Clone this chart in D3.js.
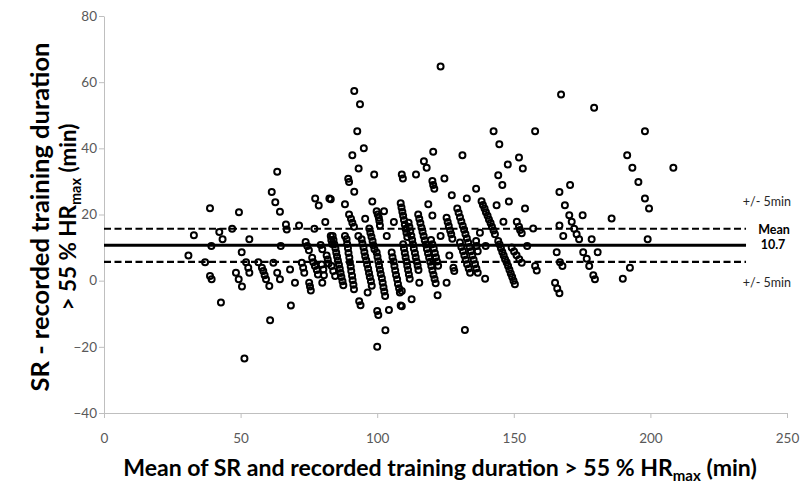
<!DOCTYPE html>
<html>
<head>
<meta charset="utf-8">
<script src="https://cdn.jsdelivr.net/npm/d3@7"></script>
<style>
  body { margin: 0; background: #fff; }
  svg { display: block; }
</style>
</head>
<body>
<div id="chart"></div>
<script>
// axis ticks
const xTicks = [0, 50, 100, 150, 200, 250];
const yTicks = [-40, -20, 0, 20, 40, 60, 80];

// bias line and limits (+/- 5 min)
const meanDiff = 10.7;
const limitOffset = 5;
const lineEnd = 235;

// [mean of SR and recorded, SR - recorded], grouped by x range
const pointsLeft = [
  [30.9,7.6],[32.9,13.7],[37.0,5.6],[38.8,21.9],[39.3,10.5],[38.8,1.4],[39.4,0.4],[42.2,14.7],
  [43.4,12.5],[42.8,-6.6],[46.9,15.7],[48.3,2.4],[49.3,0.4],[49.4,20.7],[50.4,8.6],[50.5,-1.8],
  [51.4,-23.5],[52.0,5.6],[52.8,3.9],[53.2,2.4],[53.2,12.5],[56.5,5.6]
];

const pointsLowMid = [
  [63.4,32.9],[61.4,26.8],[62.7,23.7],[64.4,20.8],[77.3,24.8],[78.6,22.7],[82.5,24.8],[81.0,17.7],
  [66.6,17.0],[66.9,15.5],[71.4,16.7],[77.0,15.7],[64.7,10.5],[73.8,11.7],[74.4,10.5],[75.0,9.2],
  [79.3,10.8],[79.9,9.5],[83.0,13.5],[83.2,12.3],[83.5,11.1],[57.8,3.9],[58.3,2.9],[58.8,1.6],
  [59.3,0.4],[60.5,-1.6],[62.0,5.4],[63.4,2.4],[64.4,0.4],[68.1,3.4],[69.9,-0.6],[72.4,5.4],
  [72.9,3.9],[73.3,2.4],[75.1,-0.6],[75.4,-1.8],[75.7,-3.0],[76.2,6.9],[76.6,5.6],[77.2,4.4],
  [77.9,3.2],[78.3,1.9],[79.7,4.9],[80.3,3.4],[80.5,1.6],[79.9,-0.6],[81.5,7.6],[81.9,6.4],
  [82.2,5.2],[83.3,4.4],[83.9,2.9],[84.6,1.4],[68.4,-7.5],[60.8,-12.0]
];

const pointsCentre = [
  [90.9,37.9],[95.1,40.0],[93.2,33.9],[98.9,32.1],[89.4,30.8],[89.7,29.8],[91.6,26.9],[109.0,32.1],
  [109.4,30.9],[83.0,24.6],[88.2,23.1],[98.2,23.9],[102.5,21.0],[95.6,18.7],[106.1,17.7],[93.1,13.5],
  [103.5,13.5],[88.2,13.5],[91.6,57.3],[93.7,53.3],[92.7,45.2],
  [99.8,21.0],[100.2,20.0],[100.6,19.0],[100.8,18.0],[101.0,16.7],
  [89.7,20.0],[90.4,18.7],[90.9,17.5],[91.5,16.3],
  [97.1,15.8],[97.5,14.5],[97.9,13.3],[98.3,12.0],[98.6,10.7],[99.0,9.5],
  [83.7,13.5],[84.0,12.3],[84.3,11.0],[84.7,9.8],[85.0,8.5],[85.3,7.3],[85.6,6.1],[86.0,4.8],
  [86.3,3.6],[86.6,2.3],[86.9,1.1],[87.3,-0.2],[87.6,-1.4],
  [88.8,12.5],[89.0,11.1],[89.3,9.8],[89.5,8.4],[89.8,7.0],[90.0,5.6],[90.3,4.3],[90.5,2.9],
  [90.8,1.5],[91.0,0.1],[91.3,-1.2],[91.5,-2.6],
  [94.3,12.5],[94.6,11.2],[95.0,10.0],[95.3,8.7],[95.6,7.4],[96.0,6.2],[96.3,4.9],[96.7,3.6],
  [97.0,2.3],[97.3,1.1],[97.7,-0.2],[98.0,-1.5],
  [99.8,8.5],[100.1,7.2],[100.4,5.9],[100.7,4.6],[101.0,3.3],[101.3,2.0],[101.7,0.7],[102.0,-0.6],
  [102.3,-2.0],[102.6,-3.3],[102.9,-4.6],
  [105.3,8.5],[105.6,7.1],[106.0,5.8],[106.3,4.4],[106.6,3.1],[106.9,1.7],[107.3,0.4],[107.6,-1.0],
  [108.0,-2.3],[108.3,-3.6],
  [93.4,-6.2],[93.9,-7.4],[100.0,-9.2],[100.4,-10.4],[104.3,-8.9],[108.6,-7.5],[96.5,-3.6],
  [100.0,-20.0],[103.0,-15.0]
];

const pointsHighMid = [
  [120.5,39.0],[131.2,37.9],[117.1,36.1],[118.1,34.1],[114.2,32.1],[120.2,30.1],[120.5,28.9],[120.9,27.8],
  [124.6,30.9],[127.3,25.8],[132.8,24.8],[136.2,27.8],[118.7,23.1],[120.2,19.7],[123.2,13.5],[126.4,7.6],
  [127.9,3.9],[128.2,2.9],[125.4,-0.6],[122.1,-4.4],[112.6,-5.6],[109.0,-3.1],[109.0,-7.7],[132.1,-14.9],
  [115.4,-0.6],[136.2,12.0],[136.4,10.5],[136.8,8.9],[123.2,64.7],
  [108.6,23.4],[108.9,22.1],[109.2,20.8],[109.5,19.6],[109.8,18.3],[110.1,17.0],[110.4,15.7],[110.7,14.5],[111.0,13.2],
  [109.5,11.0],[109.8,9.7],[110.1,8.4],[110.4,7.1],[110.7,5.8],[111.0,4.5],[111.3,3.2],[111.6,1.9],[111.9,0.6],
  [111.5,17.5],[111.8,16.2],[112.1,14.9],[112.5,13.6],[112.8,12.3],[113.1,11.0],[113.4,9.7],[113.8,8.4],
  [114.1,7.1],[114.4,5.8],[114.8,4.5],[115.1,3.2],
  [115.0,20.0],[115.4,18.7],[115.8,17.4],[116.2,16.1],[116.6,14.8],[117.0,13.5],[117.4,12.2],[117.8,10.9],
  [118.2,9.6],[118.6,8.3],[119.0,7.0],[119.4,5.7],[119.8,4.4],[120.2,3.1],[120.6,1.8],[121.0,0.5],[121.4,-0.8],
  [119.7,12.3],[120.2,11.0],[120.7,9.7],[121.1,8.4],[121.5,7.1],[121.9,5.8],[122.3,4.5],
  [125.4,19.0],[125.8,17.7],[126.2,16.5],[126.7,15.2],[127.1,14.0],[127.5,12.7],
  [129.3,21.8],[129.8,20.5],[130.3,19.2],[130.8,17.9],[131.3,16.6],[131.8,15.4],[132.3,14.1],[132.8,12.8],
  [133.3,11.5],[133.8,10.2],[134.3,8.9],[134.8,7.6],[135.3,6.3],[135.8,5.0],[136.3,3.7],[136.8,2.4],
  [130.3,11.5],[130.8,10.2],[131.4,8.9],[131.9,7.6],[132.4,6.3],[132.9,5.0],[133.5,3.7],[134.0,2.4]
];

const pointsRightMid = [
  [144.7,41.2],[147.8,35.1],[151.9,37.2],[153.3,33.9],[144.3,31.9],[145.8,28.9],[143.7,22.8],[148.2,23.9],
  [154.1,21.8],[146.2,17.8],[151.1,17.8],[151.9,16.3],[152.3,15.3],[152.9,14.3],[157.1,15.8],[137.6,14.5],
  [139.7,10.5],[154.9,10.5],[157.8,4.4],[158.4,3.1],[139.5,0.6],[142.6,45.2],[157.8,45.2],
  [138.2,24.0],[138.7,22.9],[139.3,21.8],[139.8,20.7],[140.4,19.6],[140.9,18.5],[141.5,17.4],[142.0,16.3],
  [142.6,15.2],[143.1,14.0],
  [144.3,12.0],[144.8,10.9],[145.3,9.8],[145.8,8.7],[146.3,7.6],[146.8,6.5],[147.4,5.5],[147.9,4.4],
  [148.4,3.3],[148.9,2.2],[149.4,1.1],[149.9,0.0],[150.4,-1.1],
  [149.2,10.0],[150.1,8.8],[151.0,7.7],[152.0,6.5],[152.9,5.4]
];

const pointsRight = [
  [191.5,37.9],[193.4,34.1],[170.6,28.9],[166.7,26.8],[168.7,22.8],[170.3,19.8],[171.2,17.8],[172.1,15.7],
  [173.0,14.0],[173.9,12.5],[175.2,19.8],[185.8,18.8],[166.7,16.7],[168.1,13.5],[178.5,12.5],[165.7,8.6],
  [175.4,8.6],[176.7,6.6],[177.6,4.4],[180.7,8.6],[166.9,5.6],[167.8,4.4],[179.1,1.6],[179.7,0.4],
  [189.9,0.6],[165.1,-0.6],[165.9,-2.4],[166.7,-3.8],[192.5,3.9],[198.0,45.2],[208.4,34.1],[195.6,29.8],
  [198.0,24.8],[199.5,21.8],[199.0,12.5],[179.4,52.3],[167.3,56.3]
];

const points = [].concat(pointsLeft, pointsLowMid, pointsCentre, pointsHighMid, pointsRightMid, pointsRight);

const W = 801, H = 486;
const svg = d3.select('#chart').append('svg')
  .attr('width', W)
  .attr('height', H)
  .style('font-family', 'Lato, "Open Sans", sans-serif');

const x = d3.scaleLinear().domain([0, 250]).range([104, 787]);
const y = d3.scaleLinear().domain([-40, 80]).range([413, 16]);

// axes
const yAxis = svg.append('g')
  .attr('transform', `translate(${x(0)},0)`)
  .call(d3.axisLeft(y).tickValues(yTicks).tickSize(5).tickSizeOuter(0).tickPadding(2));
const xAxis = svg.append('g')
  .attr('transform', `translate(0,${y(-40)})`)
  .call(d3.axisBottom(x).tickValues(xTicks).tickSize(5).tickSizeOuter(0).tickPadding(15));

[yAxis, xAxis].forEach(g => {
  g.select('.domain').attr('stroke', '#bfbfbf').attr('stroke-width', 1);
  g.selectAll('.tick line').attr('stroke', '#bfbfbf');
  g.selectAll('.tick text')
    .attr('fill', '#595959')
    .style('font-size', '13.5px')
    .style('font-family', 'Lato, "Open Sans", sans-serif');
});

// points
svg.append('g')
  .selectAll('circle')
  .data(points)
  .join('circle')
  .attr('cx', d => x(d[0]))
  .attr('cy', d => y(d[1]))
  .attr('r', 3)
  .attr('fill', 'none')
  .attr('stroke', '#000')
  .attr('stroke-width', 2);

// mean and limit lines
const line = d3.line().x(d => x(d[0])).y(d => y(d[1]));
svg.append('path')
  .datum([[0, meanDiff], [lineEnd, meanDiff]])
  .attr('d', line)
  .attr('stroke', '#000')
  .attr('stroke-width', 3.2)
  .attr('fill', 'none');
[meanDiff + limitOffset, meanDiff - limitOffset].forEach(v => {
  svg.append('path')
    .datum([[0, v], [lineEnd, v]])
    .attr('d', line)
    .attr('stroke', '#000')
    .attr('stroke-width', 2.2)
    .attr('stroke-dasharray', '7,3.5')
    .attr('fill', 'none');
});

// right-hand annotations
const ann = svg.append('g').style('font-size', '12.5px').attr('fill', '#262626');
ann.append('text').attr('x', 791).attr('y', y(meanDiff + limitOffset) - 23)
  .attr('text-anchor', 'end').text('+/- 5min');
ann.append('text').attr('x', 774).attr('y', y(meanDiff + limitOffset) + 5)
  .attr('text-anchor', 'middle').style('font-weight', 'bold').attr('fill', '#000').text('Mean');
ann.append('text').attr('x', 773).attr('y', y(meanDiff) + 4)
  .attr('text-anchor', 'middle').style('font-weight', 'bold').attr('fill', '#000').text('10.7');
ann.append('text').attr('x', 791).attr('y', y(meanDiff - limitOffset) + 25)
  .attr('text-anchor', 'end').text('+/- 5min');

// fit a text element to a given length by adjusting its font size
function fit(t, target) {
  const len = t.node().getComputedTextLength();
  const fs = parseFloat(t.style('font-size'));
  t.style('font-size', (fs * target / len) + 'px');
}

// x axis title
const xt = svg.append('text')
  .attr('x', 440).attr('y', 476)
  .attr('text-anchor', 'middle')
  .style('font-size', '20px').style('font-weight', 'bold').attr('fill', '#000');
xt.append('tspan').text('Mean of SR and recorded training duration > 55 % HR');
xt.append('tspan').attr('dy', 5).style('font-size', '0.65em').text('max');
xt.append('tspan').attr('dy', -5).text(' (min)');
fit(xt, 634);

// y axis title
const yt1 = svg.append('text')
  .attr('transform', 'translate(49,217) rotate(-90)')
  .attr('text-anchor', 'middle')
  .style('font-size', '20px').style('font-weight', 'bold').attr('fill', '#000')
  .text('SR - recorded training duration');
fit(yt1, 349);

const yt2 = svg.append('text')
  .attr('transform', 'translate(76,217) rotate(-90)')
  .attr('text-anchor', 'middle')
  .style('font-size', '20px').style('font-weight', 'bold').attr('fill', '#000');
yt2.append('tspan').text('> 55 % HR');
yt2.append('tspan').attr('dy', 5).style('font-size', '0.65em').text('max');
yt2.append('tspan').attr('dy', -5).text(' (min)');
fit(yt2, 187);
</script>
</body>
</html>
